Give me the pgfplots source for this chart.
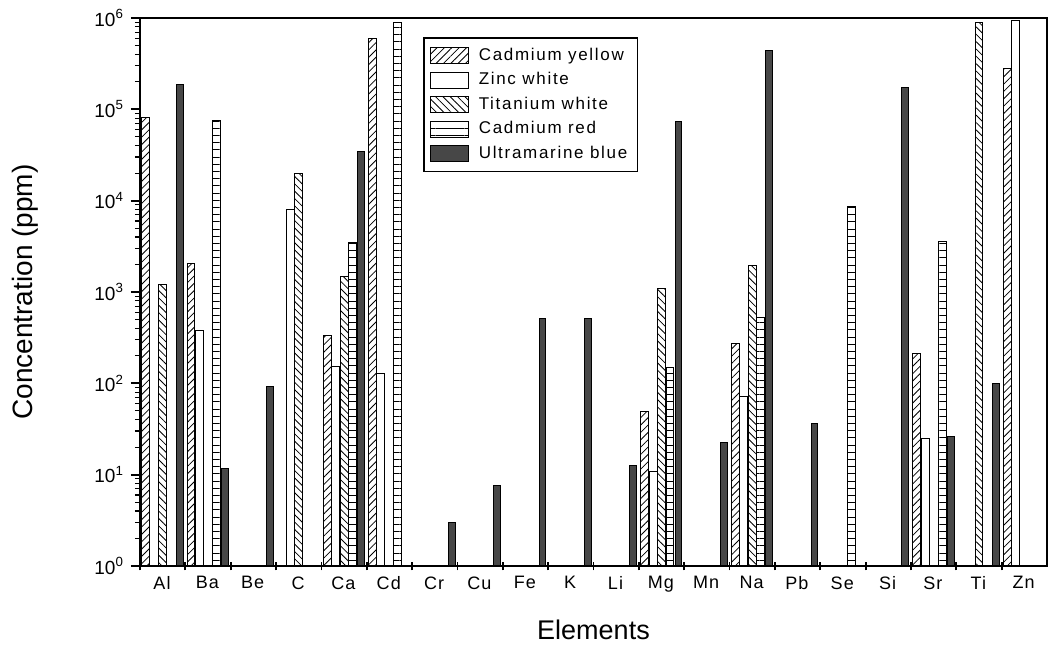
\documentclass[border=0pt]{standalone}
\usepackage{fontspec}
\setmainfont{Liberation Sans}
\usepackage{pgfplots}
\pgfplotsset{compat=1.18}
\usetikzlibrary{patterns.meta}

\begin{document}
\begin{tikzpicture}
\begin{axis}[
  name=ax,
  scale only axis, width=453.5pt, height=274pt,
  ymode=log, ymin=1, ymax=1e6,
  xmin=-0.5, xmax=19.5,
  ybar, bar width=0.175,
  clip=false,
  axis line style={line width=1pt},
  xtick pos=bottom, ytick pos=left,
  xtick={-0.5,0.5,...,18.5},
  xticklabels={Al,Ba,Be,C,Ca,Cd,Cr,Cu,Fe,K,Li,Mg,Mn,Na,Pb,Se,Si,Sr,Ti,Zn},
  xticklabel style={xshift=11.0pt, yshift=0.5pt, font=\fontsize{9}{10}\selectfont\addfontfeature{LetterSpace=6}},
  ytick={1,10,100,1000,10000,100000,1000000},
  yticklabels={10\textsuperscript{0},10\textsuperscript{1},10\textsuperscript{2},10\textsuperscript{3},10\textsuperscript{4},10\textsuperscript{5},10\textsuperscript{6}},
  minor ytick={2,3,4,5,6,7,8,9,20,30,40,50,60,70,80,90,200,300,400,500,600,700,800,900,2000,3000,4000,5000,6000,7000,8000,9000,20000,30000,40000,50000,60000,70000,80000,90000,200000,300000,400000,500000,600000,700000,800000,900000},
  yticklabel style={font=\fontsize{9.5}{10}\selectfont},
  ytick align=outside, xtick align=center,
  major tick length=4.5pt, minor tick length=2.5pt,
  tick style={black, line width=0.9pt},
  minor tick style={line width=0.6pt},
  ylabel={Concentration (ppm)},
  ylabel style={at={([xshift=-57.5pt]axis description cs:0,0.5)}, anchor=center, font=\fontsize{14}{16}\selectfont},
  xlabel={Elements},
  xlabel style={at={([yshift=-32pt]axis description cs:0.5,0)}, anchor=center, font=\fontsize{13.5}{15}\selectfont},
  legend style={at={(0.312,0.965)}, anchor=north west, draw=black, line width=0.8pt, fill=white,
    font=\fontsize{8.5}{9}\selectfont\addfontfeature{LetterSpace=10}, row sep=0.6pt, inner xsep=3pt, inner ysep=3pt, cells={anchor=west}},
  legend image code/.code={\draw[#1, line width=0.5pt] (4pt,-4pt) rectangle (23pt,4pt); \path (26pt,0pt);},
]
% Cadmium yellow
\addplot[draw=black, line width=0.5pt, pattern={Lines[angle=45,distance=2.6pt,line width=0.4pt]}, bar shift=-0.3748]
  coordinates {(0,82000) (1,2050) (4,330) (5,590000) (11,49) (13,274) (17,210) (19,280000)};
\addlegendentry{Cadmium yellow}
% Zinc white
\addplot[draw=black, line width=0.5pt, fill=white, bar shift=-0.1874]
  coordinates {(1,380) (3,8100) (4,152) (5,129) (11,10.7) (13,71) (17,25) (19,950000)};
\addlegendentry{Zinc white}
% Titanium white
\addplot[draw=black, line width=0.5pt, pattern={Lines[angle=-45,distance=2.6pt,line width=0.4pt]}, bar shift=0]
  coordinates {(0,1200) (3,19600) (4,1480) (11,1100) (13,1960) (18,890000)};
\addlegendentry{Titanium white}
% Cadmium red
\addplot[draw=black, line width=0.5pt, pattern={Lines[angle=0,distance=3.6pt,line width=0.4pt]}, bar shift=0.1874]
  coordinates {(1,75000) (4,3500) (5,890000) (11,148) (13,520) (15,8600) (17,3600)};
\addlegendentry{Cadmium red}
% Ultramarine blue
\addplot[draw=black, line width=0.5pt, fill=black!72, bar width=0.15, bar shift=0.3748]
  coordinates {(0,187000) (1,11.7) (2,93) (4,34500) (6,3.0) (7,7.7) (8,518) (9,518) (10,12.5) (11,74000) (12,22.7) (13,440000) (14,36) (16,175000) (17,26) (18,100)};
\addlegendentry{Ultramarine blue}
\end{axis}
\path (ax.south west) ++(-70pt,-39.5pt) rectangle ([xshift=0.5pt,yshift=9pt]ax.north east);
\end{tikzpicture}
\end{document}
